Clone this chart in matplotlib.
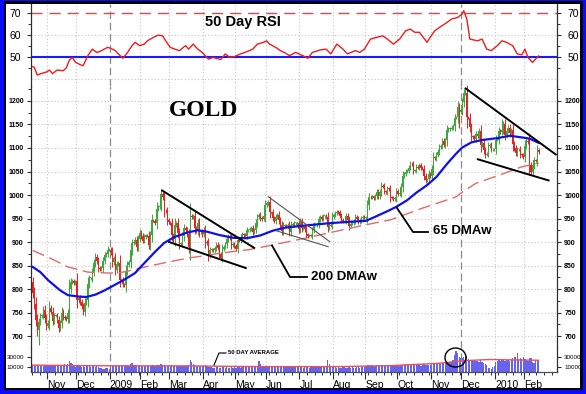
import numpy as np
import matplotlib
matplotlib.use("Agg")
import matplotlib.pyplot as plt
from matplotlib.patches import Rectangle, Ellipse
from matplotlib.lines import Line2D

plt.rcParams['font.family'] = ['Liberation Sans', 'DejaVu Sans']

# ---------------- DATA ----------------
month_labels = ["Nov", "Dec", "2009", "Feb", "Mar", "Apr", "May", "Jun", "Jul",
                "Aug", "Sep", "Oct", "Nov", "Dec", "2010", "Feb"]
# trading days per month, Oct-2008 (from Oct 20) to Feb-2010 (to Feb 12)
days_per_month = [10, 19, 22, 20, 19, 22, 21, 20, 22, 22, 21, 21, 22, 20, 22, 19, 10]

close_oct08 = [792, 768, 735, 712, 730, 742, 744, 756, 738, 722]
close_nov08 = [728, 760, 752, 733, 743, 743, 734, 718, 728, 750, 740, 738, 736, 749, 800, 815, 817, 813, 816]
close_dec08 = [776, 781, 772, 763, 752, 771, 777, 810, 823, 823, 837, 855, 868, 860, 845, 842, 845, 860, 872, 874, 884, 884]
close_jan09 = [878, 857, 865, 841, 853, 856, 820, 820, 810, 808, 838, 852, 857, 882, 898, 900, 905, 890, 907, 920]
close_feb09 = [912, 903, 911, 914, 913, 894, 914, 946, 945, 941, 971, 974, 977, 1002, 995, 966, 965, 946, 942]
close_mar09 = [940, 914, 906, 937, 940, 919, 896, 897, 912, 929, 925, 916, 889, 956, 953, 955, 929, 924, 941, 921, 922, 916]
close_apr09 = [925, 900, 897, 872, 883, 884, 882, 887, 894, 888, 874, 867, 886, 890, 895, 906, 912, 908, 893, 896, 891]
close_may09 = [886, 904, 903, 910, 916, 915, 913, 925, 925, 928, 930, 921, 926, 940, 953, 958, 951, 949, 955, 979]
close_jun09 = [982, 986, 963, 963, 951, 945, 953, 958, 946, 937, 923, 935, 935, 933, 937, 921, 937, 936, 940, 940, 940, 927]
close_jul09 = [943, 929, 932, 927, 916, 913, 913, 913, 925, 936, 936, 937, 948, 953, 949, 955, 955, 953, 931, 935, 937, 954]
close_aug09 = [958, 962, 964, 963, 956, 947, 944, 945, 955, 947, 934, 939, 941, 944, 953, 950, 943, 946, 951, 954, 952]
close_sep09 = [953, 978, 996, 995, 997, 994, 998, 1006, 998, 1006, 1020, 1018, 1008, 1006, 1014, 1012, 995, 994, 992, 994, 1008]
close_oct09 = [1002, 1003, 1018, 1040, 1045, 1050, 1052, 1058, 1066, 1065, 1052, 1052, 1060, 1058, 1064, 1058, 1056, 1040, 1032, 1033, 1045, 1040]
close_nov09 = [1055, 1080, 1078, 1086, 1092, 1102, 1104, 1115, 1107, 1116, 1138, 1140, 1141, 1142, 1146, 1164, 1165, 1188, 1176, 1180]
close_dec09 = [1197, 1216, 1218, 1165, 1164, 1144, 1125, 1123, 1119, 1130, 1125, 1136, 1106, 1111, 1096, 1086, 1088, 1104, 1106, 1097, 1097, 1097]
close_jan10 = [1118, 1118, 1136, 1133, 1138, 1150, 1128, 1137, 1143, 1131, 1138, 1108, 1099, 1089, 1097, 1097, 1086, 1085, 1081]
close_feb10 = [1105, 1115, 1112, 1063, 1050, 1063, 1074, 1073, 1095, 1091]
first_open = 815
# notable intraday extremes (day index -> price)
extreme_lows = {4: 681, 279: 1142, 298: 1080}
extreme_highs = {283: 1227, 307: 1161}

vol_oct08 = [13000, 14000, 12500, 14000, 13500, 12000, 13000, 12500, 14000, 13000]
vol_nov08 = [12500, 13500, 12000, 13000, 12500, 14000, 13000, 12000, 13500, 14000, 12500, 15000, 13000, 16000, 21000, 18000, 15000, 12000, 9000]
vol_dec08 = [12000, 11000, 12000, 10500, 11000, 10000, 11500, 12000, 11000, 10500, 12000, 11000, 10000, 11500, 9000, 8000, 7500, 6000, 5500, 7000, 8000, 6500]
vol_jan09 = [9000, 11000, 12000, 11000, 13000, 12000, 11500, 12000, 13000, 12500, 14000, 13000, 12000, 15000, 18000, 14000, 13000, 12500, 14000, 13500]
vol_feb09 = [12000, 11500, 12500, 11000, 13000, 12000, 12500, 14000, 13500, 12000, 14500, 13000, 13500, 15000, 14000, 13500, 12500, 12000, 11500]
vol_mar09 = [12500, 13000, 12000, 13500, 12500, 11000, 12000, 12500, 11500, 12000, 11000, 12500, 13000, 23000, 19000, 15000, 13000, 12000, 12500, 11500, 11000, 12000]
vol_apr09 = [12000, 13000, 11000, 10000, 9500, 9000, 8000, 8500, 9000, 9500, 8500, 8000, 9000, 9500, 8000, 9000, 8500, 8000, 9000, 8500, 9500]
vol_may09 = [8000, 9000, 9500, 8500, 9000, 10000, 9000, 9500, 10000, 9000, 10500, 9500, 10000, 11500, 12500, 21000, 16000, 11000, 10500, 12000]
vol_jun09 = [12500, 12000, 11000, 11500, 10500, 11000, 10000, 10500, 9500, 10000, 11000, 9500, 10000, 9000, 10500, 11000, 10000, 9500, 10500, 9500, 9000, 10000]
vol_jul09 = [9500, 10000, 8500, 9000, 10000, 9500, 8500, 9000, 9500, 10000, 9000, 9500, 10000, 11000, 10500, 11000, 12000, 10000, 24000, 15000, 11000, 10500]
vol_aug09 = [9500, 9000, 8500, 9000, 8000, 8500, 9000, 9500, 8500, 8000, 9000, 8500, 9000, 8000, 8500, 9500, 9000, 8500, 9000, 10000, 9500]
vol_sep09 = [11000, 13000, 14000, 12500, 13000, 12000, 12500, 13500, 12000, 13000, 14000, 13500, 12500, 13000, 12000, 14000, 13000, 12500, 11500, 12000, 13000]
vol_oct09 = [13500, 12500, 13000, 14500, 15000, 14000, 13500, 14000, 15500, 14000, 13000, 14500, 13500, 14000, 13000, 12500, 14000, 15000, 13500, 14000, 13000, 14500]
vol_nov09 = [15000, 18000, 16500, 17000, 16000, 17500, 16500, 18000, 17000, 18500, 19000, 18000, 19500, 20000, 24000, 34000, 41000, 38000, 30000, 27000]
vol_dec09 = [28000, 30000, 29000, 32000, 26000, 24000, 23000, 22000, 23000, 21000, 22000, 20000, 23000, 19000, 17000, 15000, 13000, 8000, 7000, 6500, 9000, 12000]
vol_jan10 = [20000, 22000, 24000, 21000, 23000, 26000, 22000, 24000, 23000, 21000, 25000, 28000, 30000, 29000, 38000, 26000, 27000, 25000, 29000]
vol_feb10 = [26000, 24000, 22000, 28000, 27000, 20000, 18000, 23000, 24000, 22000]

# 50-day volume average (day index, value)
vavg_day = [0, 30, 60, 100, 130, 160, 200, 234, 266, 281, 299, 317, 331]
vavg_val = [13500, 12500, 12000, 12000, 11000, 10500, 10500, 12500, 17000, 22000, 24500, 23500, 23000]

# 65-day weighted moving average (day index, value)
ma65_day = [0, 5, 10, 18, 23, 30, 35, 41, 47, 51, 60, 67, 73, 80, 86, 93, 101, 108, 114, 122,
            131, 140, 149, 157, 166, 175, 181, 194, 207, 218, 225, 233, 238, 245, 251, 258,
            264, 271, 277, 281, 287, 294, 304, 312, 319, 325, 331]
ma65_val = [847, 836, 819, 797, 787, 784, 783, 788, 797, 804, 820, 834, 855, 879, 898, 911, 920, 925, 922, 915,
            909, 908, 914, 924, 931, 934, 936, 940, 943, 945, 955, 967, 975, 989, 1005, 1021,
            1038, 1066, 1088, 1101, 1112, 1117, 1121, 1126, 1123, 1120, 1111]

# 200-day weighted moving average (day index, value)
ma200_day = [0, 10, 23, 36, 49, 56, 62, 75, 88, 102, 115, 122, 142, 156, 175, 192, 207, 223,
             234, 255, 277, 281, 290, 305, 320, 331]
ma200_val = [882, 868, 847, 836, 834, 834, 838, 848, 857, 866, 872, 876, 884, 893, 906, 918, 929, 940,
             947, 972, 996, 1006, 1025, 1042, 1060, 1068]

# 50-day RSI (day index, value)
rsi_day = [0, 1, 3, 6, 9, 11, 13, 16, 20, 22, 24, 26, 28, 31, 33, 36, 39, 42, 45, 49, 51, 54, 56,
           59, 62, 65, 67, 70, 73, 75, 79, 82, 85, 87, 90, 93, 96, 100, 102, 105, 108, 111, 115,
           118, 123, 126, 129, 132, 136, 140, 144, 147, 151, 153, 155, 159, 162, 165, 168, 172,
           177, 180, 183, 188, 192, 195, 199, 203, 206, 211, 214, 217, 221, 225, 229, 232, 236,
           240, 244, 247, 250, 253, 258, 260, 263, 266, 271, 274, 278, 281, 282, 284, 286, 291,
           294, 297, 300, 304, 307, 310, 314, 317, 320, 322, 324, 327, 330, 331]
rsi_val = [45.6, 45.3, 41.7, 42.5, 43.1, 44.0, 42.4, 44.0, 43.7, 45.0, 48.6, 49.7, 47.6, 46.5, 46.0,
           50.5, 53.6, 52.0, 52.9, 54.4, 54.0, 52.9, 51.4, 49.4, 52.0, 55.2, 56.7, 55.2, 55.9, 57.4,
           59.0, 60.0, 59.7, 57.4, 54.4, 53.6, 52.9, 55.2, 53.6, 55.9, 53.6, 52.0, 49.0, 49.8, 48.8,
           51.4, 49.8, 50.2, 51.4, 52.4, 53.6, 55.9, 56.7, 57.4, 55.9, 54.4, 52.9, 51.9, 50.6, 52.1,
           50.5, 49.4, 52.1, 53.2, 53.6, 51.4, 55.9, 53.6, 51.4, 52.9, 52.1, 53.6, 58.2, 59.0, 59.7,
           58.2, 55.9, 58.2, 62.0, 62.8, 61.3, 61.3, 56.7, 59.0, 62.0, 63.5, 65.8, 67.4, 68.1, 69.7,
           71.2, 67.4, 58.2, 57.4, 58.2, 53.6, 52.9, 55.2, 57.4, 56.7, 55.2, 51.4, 51.0, 53.6, 49.8,
           47.5, 49.8, 50.5]

price_ticks = [700, 750, 800, 850, 900, 950, 1000, 1050, 1100, 1150, 1200]
rsi_ticks = [50, 60, 70]
vol_ticks = [10000, 30000]

# ---------------- PREP ----------------
closes = np.array(close_oct08 + close_nov08 + close_dec08 + close_jan09 + close_feb09 + close_mar09 +
                  close_apr09 + close_may09 + close_jun09 + close_jul09 + close_aug09 + close_sep09 +
                  close_oct09 + close_nov09 + close_dec09 + close_jan10 + close_feb10, dtype=float)
vols = np.array(vol_oct08 + vol_nov08 + vol_dec08 + vol_jan09 + vol_feb09 + vol_mar09 + vol_apr09 +
                vol_may09 + vol_jun09 + vol_jul09 + vol_aug09 + vol_sep09 + vol_oct09 + vol_nov09 +
                vol_dec09 + vol_jan10 + vol_feb10, dtype=float)
n = len(closes)
idx = np.arange(n)
opens = np.concatenate([[first_open], closes[:-1]])
body_hi = np.maximum(opens, closes)
body_lo = np.minimum(opens, closes)
rng = body_hi - body_lo
highs = body_hi + 0.35 * rng + 3
lows = body_lo - 0.35 * rng - 3
for k, v in extreme_lows.items():
    lows[k] = v
for k, v in extreme_highs.items():
    highs[k] = v

month_starts = np.cumsum(days_per_month)[:-1]  # indices of first day of each month label

# ---------------- FIGURE ----------------
W, H = 586, 394
fig = plt.figure(figsize=(W / 100, H / 100), dpi=100)
fig.patch.set_facecolor('#0a0aff')


def frect(x0, y0, x1, y1, **kw):
    return Rectangle((x0 / W, 1 - y1 / H), (x1 - x0) / W, (y1 - y0) / H,
                     transform=fig.transFigure, **kw)


fig.patches.append(frect(4, 1, 583, 390, facecolor='black', edgecolor='none', zorder=-10))
fig.patches.append(frect(6, 3.5, 580, 387.5, facecolor='white', edgecolor='none', zorder=-9))

X0, X1 = 31, 557


def arect(top, bottom):
    return [X0 / W, 1 - bottom / H, (X1 - X0) / W, (bottom - top) / H]


ax_r = fig.add_axes(arect(3.5, 86))
ax_p = fig.add_axes(arect(86, 348))
ax_v = fig.add_axes(arect(348, 372))

xlim = (-1.1, 343)
grid_kw = dict(color='#c4c4c4', lw=0.8, linestyle=(0, (1, 2)), zorder=0.5)
dash_kw = dict(color='#8a8a8a', lw=0.9, linestyle=(0, (6, 3)), zorder=0.6)
dashed_months = [2, 13]  # Jan-2009 and Dec-2009

for ax in (ax_r, ax_p, ax_v):
    ax.set_facecolor('none')
    ax.set_xlim(*xlim)
    for s in ('top', 'bottom'):
        ax.spines[s].set_visible(False)
    for s in ('left', 'right'):
        ax.spines[s].set_color('#303030')
        ax.spines[s].set_linewidth(0.9)
    for j, m in enumerate(month_starts):
        if j in dashed_months:
            ax.axvline(m - 0.5, **dash_kw)
        else:
            ax.axvline(m - 0.5, **grid_kw)
    ax.tick_params(axis='y', which='major', left=True, right=True, labelleft=True,
                   labelright=True, direction='out', length=3, width=0.8, color='#303030',
                   pad=2.2)
    ax.tick_params(axis='y', which='minor', left=True, right=True, direction='out',
                   length=2, width=0.7, color='#303030')

# ---- RSI panel ----
ax_r.set_ylim(36.7, 74.5)
for g in (40, 60):
    ax_r.axhline(g, **grid_kw)
ax_r.axhline(70, color='#e04848', lw=1.0, linestyle=(0, (8, 5)), zorder=1)
ax_r.axhline(50, color='#1a1aff', lw=1.5, zorder=2)
ax_r.plot(rsi_day, rsi_val, color='#ee1c1c', lw=1.0, zorder=3)
ax_r.set_yticks(rsi_ticks)
ax_r.set_yticks([45, 55, 65], minor=True)
ax_r.set_xticks([])
ax_r.tick_params(axis='y', which='major', pad=4.5)
for lab in ax_r.get_yticklabels():
    lab.set_fontsize(7.5)

# ---- Price panel ----
ax_p.set_ylim(674.5, 1231.9)
for g in price_ticks:
    ax_p.axhline(g, **grid_kw)
up = closes >= opens
col = np.where(up, '#3aa83a', '#ea2020')
ax_p.vlines(idx, lows, highs, colors=col, lw=0.7, zorder=2)
ax_p.bar(idx, np.maximum(rng, 1.5), bottom=body_lo, width=0.8, color=col, lw=0, zorder=2)
ax_p.plot(ma200_day, ma200_val, color='#e06a6a', lw=1.0, linestyle=(0, (9, 4)), zorder=3)
ax_p.plot(ma65_day, ma65_val, color='#1010e8', lw=1.6, zorder=4)
ax_p.set_yticks(price_ticks)
ax_p.set_yticks([p + 25 for p in price_ticks], minor=True)
ax_p.set_xticks([])
for lab in ax_p.get_yticklabels():
    lab.set_fontsize(5)
    lab.set_fontweight('bold')

# trend lines (annotations)
tl = dict(color='black', lw=1.4, zorder=5, solid_capstyle='butt')
ax_p.plot([84.2, 145.4], [1010.6, 886.5], **tl)
ax_p.plot([88.7, 140.0], [900.6, 844.0], **tl)
ax_p.plot([154.1, 194.4], [996.4, 900.6], color='#555555', lw=0.8, zorder=5)
ax_p.plot([159.6, 193.3], [923.8, 890.0], color='#555555', lw=0.8, zorder=5)
ax_p.plot([282.7, 342.7], [1228, 1085], clip_on=False, **tl)
ax_p.plot([290.6, 338.1], [1076.6, 1030.4], **tl)

# ---- Volume panel ----
ax_v.set_ylim(0, 47000)
ax_v.spines['bottom'].set_visible(True)
ax_v.spines['bottom'].set_color('#505050')
ax_v.spines['bottom'].set_linewidth(0.9)
ax_v.bar(idx, vols, width=0.8, color='#6464ee', lw=0, zorder=2)
ax_v.plot(vavg_day, vavg_val, color='#f05050', lw=1.0, zorder=3)
ax_v.set_yticks(vol_ticks)
for lab in ax_v.get_yticklabels():
    lab.set_fontsize(4.5)
ax_v.set_xticks(month_starts - 0.5)
ax_v.set_xticklabels(month_labels, ha='left', fontsize=7.5)
ax_v.set_xticks(np.arange(0, n + 10, 5) - 0.5, minor=True)
ax_v.tick_params(axis='x', which='major', direction='out', length=5, width=0.8,
                 color='#303030', pad=1.0)
ax_v.tick_params(axis='x', which='minor', direction='out', length=2.5, width=0.7,
                 color='#303030')


# ---------------- TEXT & ANNOTATIONS ----------------
def ftext(x, y, s, **kw):
    fig.text(x / W, 1 - y / H, s, **kw)


def fline(xs, ys, **kw):
    fig.add_artist(Line2D([x / W for x in xs], [1 - y / H for y in ys],
                          transform=fig.transFigure, **kw))


ftext(243, 22, "50 Day RSI", fontsize=10.5, fontweight='bold', ha='center', va='center')
ftext(203.5, 110, "GOLD", fontsize=17, fontweight='bold', ha='center', va='center',
      family=['Liberation Serif', 'DejaVu Serif'])
ftext(433, 231, "65 DMAw", fontsize=9.5, fontweight='bold', ha='left', va='center')
ftext(311, 277, "200 DMAw", fontsize=9.5, fontweight='bold', ha='left', va='center')
ftext(228, 353, "50 DAY AVERAGE", fontsize=4.3, fontweight='bold', ha='left', va='center')

fline([428, 413, 397], [232, 232, 208], color='black', lw=1.3)
fline([307, 290, 272], [277, 277, 245.5], color='black', lw=1.3)
fline([226, 219, 214], [353, 353, 365], color='black', lw=0.8)

fig.add_artist(Ellipse((455.5 / W, 1 - 357.5 / H), 21 / W, 19 / H, transform=fig.transFigure,
                       fill=False, edgecolor='black', lw=1.0))

fig.savefig("out.png", dpi=100, facecolor=fig.get_facecolor())
